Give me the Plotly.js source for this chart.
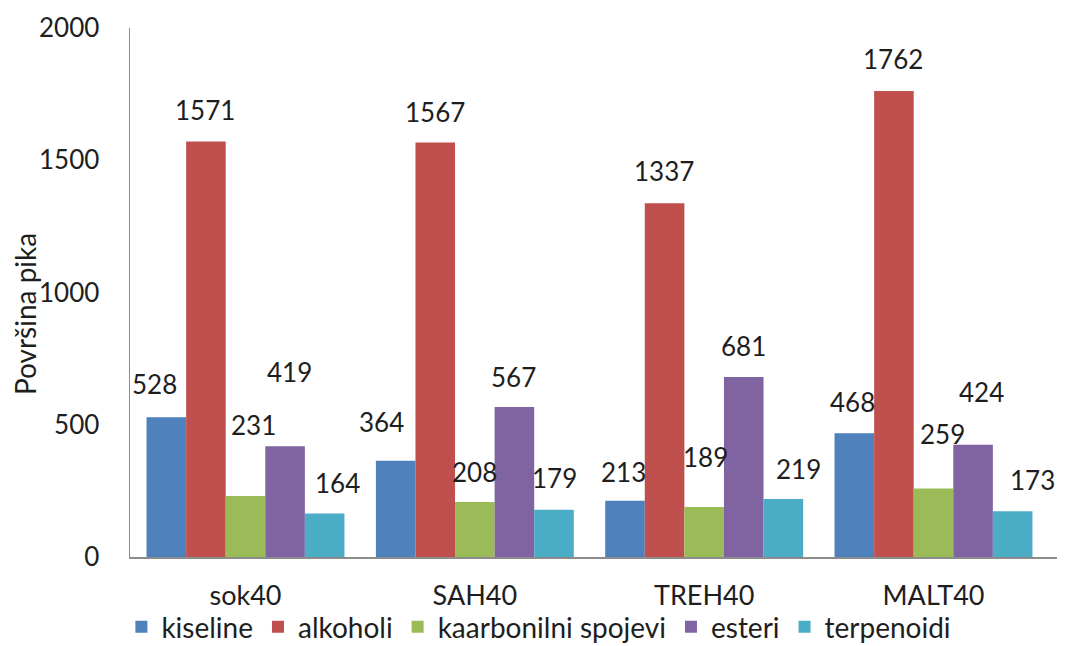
<!DOCTYPE html>
<html>
<head>
<meta charset="utf-8">
<script src="https://cdn.plot.ly/plotly-3.0.1.min.js"></script>
<style>html,body{margin:0;padding:0;background:#fff;}#chart{width:1065px;height:646px;}</style>
</head>
<body>
<div id="chart"></div>
<script>
// ---- data ----
const categories = ["sok40", "SAH40", "TREH40", "MALT40"];
const seriesNames = ["kiseline", "alkoholi", "kaarbonilni spojevi", "esteri", "terpenoidi"];
const kiseline   = [528, 364, 213, 468];
const alkoholi   = [1571, 1567, 1337, 1762];
const kaarbonilni = [231, 208, 189, 259];
const esteri     = [419, 567, 681, 424];
const terpenoidi = [164, 179, 219, 173];
const yTicks = [0, 500, 1000, 1500, 2000];

// ---- styling ----
const seriesValues = [kiseline, alkoholi, kaarbonilni, esteri, terpenoidi];
const colors = ["#4F81BD", "#C0504D", "#9BBB59", "#8064A2", "#4BACC6"];
const FONT = "Lato, 'Open Sans', sans-serif";
const TXT = "#1e1e1e";

const W = 1065, H = 646;
const margin = {l: 130, r: 8, t: 28, b: 89, autoexpand: false};
const bargap = 0.137;
const plotW = W - margin.l - margin.r;
const plotH = H - margin.t - margin.b;
const barPx = (plotW / categories.length) * (1 - bargap) / seriesNames.length;

// label placement tweaks [dx px, lift px above bar top] per series / category
const labelTweak = [
  [[-11, 33], [-13, 39], [-1, 29], [-1, 31]],
  [[0, 31], [0, 31], [0, 32], [0, 32]],
  [[8, 71], [0, 30], [1, 50], [9, 54]],
  [[4, 74], [-1, 30], [-1, 31], [8, 53]],
  [[12, 31], [0, 32], [14, 30], [19, 31]]
];

const traces = seriesNames.map((name, i) => ({
  type: "bar",
  name: name,
  x: categories,
  y: seriesValues[i],
  marker: {color: colors[i], line: {width: 0}},
  hoverinfo: "x+y+name"
}));

const annotations = [];
seriesValues.forEach((vals, i) => {
  vals.forEach((v, j) => {
    const t = labelTweak[i][j];
    annotations.push({
      x: categories[j], y: v, xref: "x", yref: "y",
      text: String(v), showarrow: false,
      xshift: (i - (seriesNames.length - 1) / 2) * barPx + t[0],
      yshift: t[1],
      xanchor: "center", yanchor: "middle",
      font: {family: FONT, size: 26, color: TXT}
    });
  });
});

// y-axis title
annotations.push({
  xref: "paper", yref: "paper",
  x: (25 - margin.l) / plotW, y: (H - margin.b - 314) / plotH,
  text: "Površina pika", showarrow: false, textangle: -90,
  xanchor: "center", yanchor: "middle",
  font: {family: FONT, size: 28, color: TXT}
});

const layout = {
  width: W, height: H,
  margin: margin,
  paper_bgcolor: "#fff", plot_bgcolor: "#fff",
  barmode: "group", bargap: bargap, bargroupgap: 0,
  font: {family: FONT, color: TXT},
  showlegend: true,
  legend: {
    orientation: "h", xref: "container", yref: "paper",
    x: 0.506, xanchor: "center",
    y: (H - margin.b - 627) / plotH, yanchor: "middle",
    bgcolor: "rgba(0,0,0,0)",
    font: {family: FONT, size: 28, color: TXT},
    itemclick: false, traceorder: "normal", tracegroupgap: 0
  },
  xaxis: {
    type: "category", categoryarray: categories,
    showline: true, linecolor: "#8c8c8c", linewidth: 1.5,
    ticks: "", showgrid: false, zeroline: false,
    tickfont: {family: FONT, size: 27, color: TXT},
    ticklabelstandoff: 14
  },
  yaxis: {
    range: [0, 2000], tickvals: yTicks, ticktext: yTicks.map(String),
    showline: true, linecolor: "#8c8c8c", linewidth: 1.5,
    ticks: "", showgrid: false, zeroline: false,
    tickfont: {family: FONT, size: 26, color: TXT},
    ticklabelstandoff: 24
  },
  annotations: annotations
};

Plotly.newPlot("chart", traces, layout, {displayModeBar: false, staticPlot: true});
</script>
</body>
</html>
